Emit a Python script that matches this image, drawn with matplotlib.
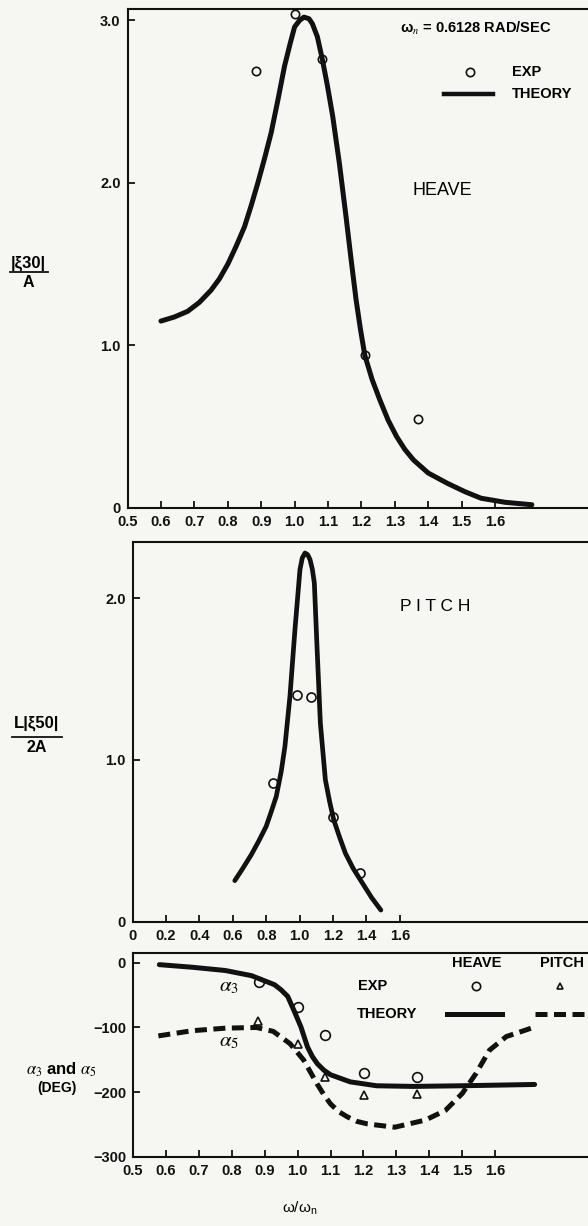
import matplotlib
matplotlib.use("Agg")
import matplotlib.pyplot as plt
from matplotlib.lines import Line2D

plt.rcParams["font.family"] = ["Liberation Sans", "DejaVu Sans"]
plt.rcParams["mathtext.fontset"] = "stix"

# 상하 운동(heave) 진폭 응답: 이론 곡선과 실험값
heave_theory_x = [0.60, 0.64, 0.68, 0.715, 0.75, 0.775, 0.80, 0.825, 0.85, 0.87, 0.89,
                  0.91, 0.93, 0.95, 0.97, 0.987, 1.00, 1.015, 1.028, 1.043, 1.053, 1.068,
                  1.083, 1.098, 1.114, 1.134, 1.154, 1.169, 1.184, 1.197, 1.21, 1.232,
                  1.255, 1.28, 1.305, 1.33, 1.356, 1.40, 1.457, 1.51, 1.558, 1.63, 1.71]
heave_theory_y = [1.15, 1.175, 1.21, 1.265, 1.34, 1.41, 1.50, 1.61, 1.73, 1.86, 2.00,
                  2.15, 2.31, 2.51, 2.72, 2.86, 2.96, 3.00, 3.02, 3.01, 2.98, 2.90,
                  2.76, 2.60, 2.41, 2.12, 1.79, 1.53, 1.28, 1.10, 0.94, 0.79,
                  0.665, 0.54, 0.44, 0.36, 0.295, 0.215, 0.152, 0.10, 0.06, 0.035, 0.02]
heave_exp_x = [0.883, 1.0, 1.083, 1.21, 1.369]
heave_exp_y = [2.69, 3.04, 2.76, 0.94, 0.546]

# 종동요(pitch) 진폭 응답
pitch_theory_x = [0.806, 0.83, 0.855, 0.878, 0.900, 0.915, 0.930, 0.945, 0.956, 0.971,
                  0.986, 1.001, 1.008, 1.016, 1.024, 1.031, 1.038, 1.044, 1.052, 1.062,
                  1.077, 1.09, 1.102, 1.12, 1.137, 1.16, 1.188, 1.215, 1.243]
pitch_theory_y = [0.254, 0.33, 0.413, 0.50, 0.59, 0.68, 0.774, 0.93, 1.084, 1.393,
                  1.806, 2.178, 2.25, 2.28, 2.27, 2.24, 2.18, 2.095, 1.70, 1.228,
                  0.877, 0.74, 0.63, 0.52, 0.423, 0.33, 0.238, 0.15, 0.072]
pitch_exp_x = [0.92, 0.993, 1.035, 1.10, 1.182]
pitch_exp_y = [0.857, 1.40, 1.387, 0.65, 0.303]

# 위상각 alpha3 (heave), alpha5 (pitch) [deg]
alpha3_theory_x = [0.58, 0.68, 0.78, 0.86, 0.93, 0.95, 0.97, 0.99, 1.01, 1.03, 1.045,
                   1.06, 1.08, 1.10, 1.16, 1.24, 1.35, 1.50, 1.72]
alpha3_theory_y = [-3, -7, -12, -20, -34, -42, -52, -75, -99, -130, -145,
                   -156, -166, -173, -184, -190, -191, -190, -188]
alpha5_theory_x = [0.577, 0.68, 0.782, 0.875, 0.926, 0.977, 1.018, 1.038, 1.059, 1.08,
                   1.10, 1.125, 1.151, 1.18, 1.213, 1.295, 1.388, 1.449, 1.50, 1.542,
                   1.583, 1.634, 1.716]
alpha5_theory_y = [-113, -105, -101, -100, -106, -125, -150, -168, -187, -204,
                   -218, -230, -238, -245, -249, -254, -243, -228, -202, -171,
                   -135, -114, -100]
alpha3_exp_x = [0.882, 1.0, 1.083, 1.203, 1.364]
alpha3_exp_y = [-30, -69, -111, -171, -177]
alpha5_exp_x = [0.88, 1.0, 1.083, 1.203, 1.364]
alpha5_exp_y = [-90, -126, -176, -205, -202]

# 눈금 위치와 라벨
amp_xticks = [0.5, 0.6, 0.7, 0.8, 0.9, 1.0, 1.1, 1.2, 1.3, 1.4, 1.5, 1.6]
amp_xlabels = ["0.5", "0.6", "0.7", "0.8", "0.9", "1.0", "1.1", "1.2", "1.3", "1.4", "1.5", "1.6"]
pitch_xticks = [0.5, 0.6, 0.7, 0.8, 0.9, 1.0, 1.1, 1.2, 1.3]
pitch_xlabels = ["0", "0.2", "0.4", "0.6", "0.8", "1.0", "1.2", "1.4", "1.6"]
heave_yticks = [0, 1, 2, 3]
heave_ylabels = ["0", "1.0", "2.0", "3.0"]
pitch_yticks = [0, 1, 2]
pitch_ylabels = ["0", "1.0", "2.0"]
phase_yticks = [0, -100, -200, -300]
phase_ylabels = ["0", "\u2212100", "\u2212200", "\u2212300"]

BG = "#f6f6f3"
INK = "#111111"
W, H = 588, 1226


def make_axes(fig, left_px, top_px, bottom_px):
    ax = fig.add_axes([left_px / W, 1 - bottom_px / H, 1.0 - left_px / W + 0.01,
                       (bottom_px - top_px) / H])
    ax.set_facecolor(BG)
    ax.spines["right"].set_visible(False)
    for side in ["left", "bottom", "top"]:
        ax.spines[side].set_linewidth(1.5)
        ax.spines[side].set_color(INK)
    ax.tick_params(direction="in", length=5, width=1.3, colors=INK, pad=5,
                   labelsize=10.5)
    return ax


def style_ticklabels(ax):
    for lab in ax.get_xticklabels() + ax.get_yticklabels():
        lab.set_fontweight("bold")


fig = plt.figure(figsize=(W / 100, H / 100), dpi=100, facecolor=BG)

# --- HEAVE 진폭 ---
ax1 = make_axes(fig, 127.5, 9, 508)
ax1.plot(heave_theory_x, heave_theory_y, color=INK, lw=3.6, solid_capstyle="round",
         solid_joinstyle="round")
ax1.plot(heave_exp_x, heave_exp_y, "o", ms=6, mfc="none", mec=INK, mew=1.2)
ax1.set_xlim(0.5, 0.5 + (W - 127.5) / 330)
ax1.set_ylim(0, 3.07)
ax1.set_xticks(amp_xticks, amp_xlabels)
ax1.set_yticks(heave_yticks, heave_ylabels)
style_ticklabels(ax1)
ax1.text(0.585, 0.962, "\u03c9$_n$ = 0.6128 RAD/SEC", transform=ax1.transAxes,
         fontsize=10.5, fontweight="bold", va="center", ha="left")
ax1.plot([0.735], [0.874], "o", ms=6, mfc="none", mec=INK, mew=1.2,
         transform=ax1.transAxes)
ax1.text(0.824, 0.874, "EXP", transform=ax1.transAxes, fontsize=10.5,
         fontweight="bold", va="center")
ax1.plot([0.679, 0.783], [0.830, 0.830], color=INK, lw=3.2, transform=ax1.transAxes)
ax1.text(0.824, 0.830, "THEORY", transform=ax1.transAxes, fontsize=10.5,
         fontweight="bold", va="center")
ax1.text(0.674, 0.637, "HEAVE", transform=ax1.transAxes, fontsize=13,
         ha="center", va="center")

# --- PITCH 진폭 ---
ax2 = make_axes(fig, 132.5, 541.7, 921.7)
ax2.plot(pitch_theory_x, pitch_theory_y, color=INK, lw=3.4, solid_capstyle="round",
         solid_joinstyle="round")
ax2.plot(pitch_exp_x, pitch_exp_y, "o", ms=6.5, mfc="none", mec=INK, mew=1.2)
ax2.set_xlim(0.5, 0.5 + (W - 132.5) / 330)
ax2.set_ylim(0, 2.35)
ax2.set_xticks(pitch_xticks, pitch_xlabels)
ax2.set_yticks(pitch_yticks, pitch_ylabels)
style_ticklabels(ax2)
ax2.text(0.657, 0.829, "P I T C H", transform=ax2.transAxes, fontsize=12.5,
         ha="center", va="center")

# --- 위상각 ---
ax3 = make_axes(fig, 133, 953, 1157)
ax3.plot(alpha3_theory_x, alpha3_theory_y, color=INK, lw=3.6, solid_capstyle="round",
         solid_joinstyle="round")
ax3.plot(alpha5_theory_x, alpha5_theory_y, color=INK, lw=3.6, ls=(0, (2.4, 1.3)),
         dash_capstyle="butt")
ax3.plot(alpha3_exp_x, alpha3_exp_y, "o", ms=7, mfc="none", mec=INK, mew=1.2)
ax3.plot(alpha5_exp_x, alpha5_exp_y, "^", ms=5.5, mfc="none", mec=INK, mew=1.2)
ax3.set_xlim(0.5, 0.5 + (W - 133) / 325)
ax3.set_ylim(-300, 15)
ax3.set_xticks(amp_xticks, amp_xlabels)
ax3.set_yticks(phase_yticks, phase_ylabels)
style_ticklabels(ax3)
ax3.text(0.209, 0.835, r"$\alpha_3$", transform=ax3.transAxes, fontsize=15,
         ha="center", va="center")
ax3.text(0.209, 0.565, r"$\alpha_5$", transform=ax3.transAxes, fontsize=15,
         ha="center", va="center")
ax3.text(0.745, 0.951, "HEAVE", transform=ax3.transAxes, fontsize=10.5,
         fontweight="bold", ha="center", va="center")
ax3.text(0.931, 0.951, "PITCH", transform=ax3.transAxes, fontsize=10.5,
         fontweight="bold", ha="center", va="center")
ax3.text(0.488, 0.838, "EXP", transform=ax3.transAxes, fontsize=10.5,
         fontweight="bold", ha="left", va="center")
ax3.text(0.486, 0.701, "THEORY", transform=ax3.transAxes, fontsize=10.5,
         fontweight="bold", ha="left", va="center")
ax3.plot([0.745], [0.838], "o", ms=6, mfc="none", mec=INK, mew=1.2,
         transform=ax3.transAxes)
ax3.plot([0.927], [0.838], "^", ms=5, mfc="none", mec=INK, mew=1.2,
         transform=ax3.transAxes)
ax3.plot([0.681, 0.80], [0.701, 0.701], color=INK, lw=3.6, transform=ax3.transAxes)
ax3.plot([0.873, 0.982], [0.701, 0.701], color=INK, lw=3.6, ls=(0, (2.4, 1.3)),
         dash_capstyle="butt", transform=ax3.transAxes)

# 세로축 제목 (분수 형태)
fig.text(0.049, 1 - 263 / H, "|\u03be30|", fontsize=12, fontweight="bold",
         ha="center", va="center")
fig.add_artist(Line2D([0.017, 0.082], [1 - 271.7 / H] * 2, color=INK, lw=1.3))
fig.text(0.049, 1 - 283 / H, "A", fontsize=11.5, fontweight="bold",
         ha="center", va="center")

fig.text(0.063, 1 - 723 / H, "L|\u03be50|", fontsize=12, fontweight="bold",
         ha="center", va="center")
fig.add_artist(Line2D([0.020, 0.105], [1 - 737 / H] * 2, color=INK, lw=1.3))
fig.text(0.063, 1 - 748 / H, "2A", fontsize=11.5, fontweight="bold",
         ha="center", va="center")

fig.text(0.105, 1 - 1070 / H, r"$\alpha_3$ and $\alpha_5$", fontsize=12,
         fontweight="bold", ha="center", va="center")
fig.text(0.097, 1 - 1088 / H, "(DEG)", fontsize=10, fontweight="bold",
         ha="center", va="center")

fig.text(0.510, 1 - 1208 / H, "\u03c9/\u03c9$_\\mathregular{n}$", fontsize=11,
         ha="center", va="center")

fig.savefig("out.png", dpi=100, facecolor=BG)
